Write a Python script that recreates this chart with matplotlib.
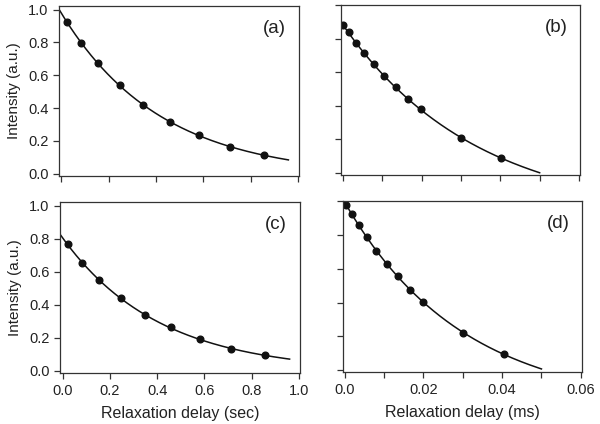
import numpy as np
import matplotlib
matplotlib.use("Agg")
import matplotlib.pyplot as plt
from matplotlib.ticker import FixedLocator, FixedFormatter

plt.rcParams['font.family'] = ['Liberation Sans', 'DejaVu Sans']

# relaxation delays (sec) for panels a, c
delay_sec = [0.022, 0.083, 0.153, 0.246, 0.347, 0.460, 0.581, 0.712, 0.855]
# relaxation delays (ms) for panels b, d
delay_ms_b = [0.0000, 0.0015, 0.0033, 0.0055, 0.0079, 0.0105, 0.0134, 0.0165, 0.0198, 0.0300, 0.0402]
delay_ms_d = [0.0004, 0.0018, 0.0036, 0.0058, 0.0081, 0.0107, 0.0136, 0.0167, 0.0200, 0.0302, 0.0404]

int_a = [0.927, 0.799, 0.673, 0.538, 0.417, 0.317, 0.233, 0.164, 0.113]
int_b = [0.880, 0.838, 0.774, 0.712, 0.648, 0.576, 0.510, 0.438, 0.378, 0.210, 0.088]
int_c = [0.766, 0.655, 0.550, 0.441, 0.336, 0.263, 0.194, 0.132, 0.093]
int_d = [0.980, 0.924, 0.857, 0.787, 0.705, 0.627, 0.556, 0.472, 0.403, 0.219, 0.094]

labels = ['(a)', '(b)', '(c)', '(d)']
fit_range_sec = (-0.01, 0.96)
fit_range_ms = (0.0, 0.05)

text_col = '#222222'


def exp_fit(x, y, x_lo, x_hi):
    # y = A*exp(-k x) + C, grid search on k, least squares for A, C
    x = np.asarray(x)
    y = np.asarray(y)
    best = None
    for k in np.linspace(0.05, 40, 8000) / x.max():
        M = np.column_stack([np.exp(-k * x), np.ones_like(x)])
        coef, *_ = np.linalg.lstsq(M, y, rcond=None)
        err = np.sum((M @ coef - y) ** 2)
        if best is None or err < best[0]:
            best = (err, k, coef)
    _, k, (A, C) = best
    xf = np.linspace(x_lo, x_hi, 300)
    return xf, A * np.exp(-k * xf) + C


fig = plt.figure(figsize=(6.0, 4.24), dpi=100)
boxes = [
    [0.098, 0.585, 0.400, 0.401],
    [0.568, 0.587, 0.399, 0.401],
    [0.100, 0.120, 0.400, 0.403],
    [0.571, 0.122, 0.399, 0.403],
]
xs = [delay_sec, delay_ms_b, delay_sec, delay_ms_d]
ys = [int_a, int_b, int_c, int_d]

for i in range(4):
    ax = fig.add_axes(boxes[i])
    left_col = i in (0, 2)
    bottom_row = i in (2, 3)
    rng = fit_range_sec if left_col else fit_range_ms
    xf, yf = exp_fit(xs[i], ys[i], *rng)
    ax.plot(xf, yf, color='#111111', lw=1.1)
    ax.plot(xs[i], ys[i], 'o', color='#111111', ms=4.8, mec='#111111')

    if left_col:
        ax.set_xlim(-0.011, 1.004)
        ax.set_ylim(-0.014, 1.022)
        xt = [0.0, 0.2, 0.4, 0.6, 0.8, 1.0]
        xl = ['0.0', '0.2', '0.4', '0.6', '0.8', '1.0']
    else:
        ax.set_xlim(-0.0005, 0.0603)
        ax.set_ylim(-0.014, 1.0)
        xt = [0.0, 0.01, 0.02, 0.03, 0.04, 0.05, 0.06]
        xl = ['0.0', '', '0.02', '', '0.04', '', '0.06']
    yt = [0.0, 0.2, 0.4, 0.6, 0.8, 1.0]
    yl = ['0.0', '0.2', '0.4', '0.6', '0.8', '1.0']

    ax.xaxis.set_major_locator(FixedLocator(xt))
    ax.yaxis.set_major_locator(FixedLocator(yt))
    ax.xaxis.set_major_formatter(FixedFormatter(xl if bottom_row else [''] * len(xt)))
    ax.yaxis.set_major_formatter(FixedFormatter(yl if left_col else [''] * len(yt)))
    ax.tick_params(direction='out', length=4.5, width=0.9, color='#333333',
                   labelsize=10.5, labelcolor=text_col, pad=3)
    for s in ax.spines.values():
        s.set_linewidth(0.9)
        s.set_color('#333333')

    if left_col:
        ax.set_ylabel('Intensity (a.u.)', fontsize=11, color=text_col, labelpad=5)
    if bottom_row:
        ax.set_xlabel('Relaxation delay (sec)' if left_col else 'Relaxation delay (ms)',
                      fontsize=11.5, color=text_col, labelpad=6)
    ax.text(0.90, 0.87, labels[i], transform=ax.transAxes, ha='center', va='center',
            fontsize=13.5, color=text_col)

fig.savefig('out.png', dpi=100, facecolor='white')
